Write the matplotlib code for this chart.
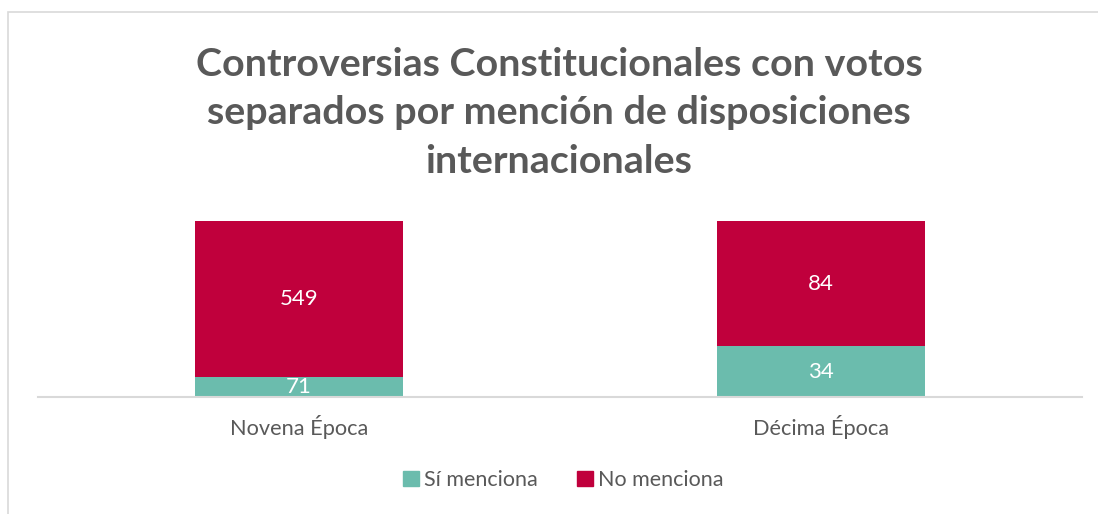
import matplotlib
matplotlib.use('Agg')
import matplotlib.pyplot as plt
from matplotlib.patches import Rectangle, Patch

plt.rcParams['font.family'] = ['Lato', 'DejaVu Sans']

categories = ['Novena Época', 'Décima Época']
si_menciona = [71, 34]
no_menciona = [549, 84]
series_names = ['Sí menciona', 'No menciona']
colors = ['#6BBCAD', '#C0003C']
gray = '#595959'


def main():
    fig = plt.figure(figsize=(10.98, 5.14), dpi=100)
    # outer chart border
    fig.patches.append(Rectangle((8 / 1098, -0.1), 1.2, 1 - 12 / 514 + 0.1,
                                 transform=fig.transFigure, fill=False,
                                 edgecolor='#d9d9d9', linewidth=1.2))

    ax = fig.add_axes([38 / 1098, 1 - 397 / 514, 1044 / 1098, 176 / 514])

    totals = [a + b for a, b in zip(si_menciona, no_menciona)]
    si_pct = [a / t for a, t in zip(si_menciona, totals)]
    no_pct = [b / t for b, t in zip(no_menciona, totals)]
    x = range(len(categories))

    ax.bar(x, si_pct, width=0.4, color=colors[0], label=series_names[0])
    ax.bar(x, no_pct, width=0.4, bottom=si_pct, color=colors[1], label=series_names[1])

    for i in x:
        ax.text(i, si_pct[i] / 2, str(si_menciona[i]), ha='center', va='center',
                color='white', fontsize=16)
        ax.text(i, si_pct[i] + no_pct[i] / 2, str(no_menciona[i]), ha='center',
                va='center', color='white', fontsize=16)

    ax.set_xlim(-0.5, 1.5)
    ax.set_ylim(0, 1)
    ax.set_xticks(list(x))
    ax.set_xticklabels(categories, fontsize=15.7, color=gray)
    ax.tick_params(axis='x', length=0, pad=13)
    ax.set_yticks([])
    for s in ['top', 'left', 'right']:
        ax.spines[s].set_visible(False)
    ax.spines['bottom'].set_color('#d9d9d9')
    ax.spines['bottom'].set_linewidth(1.5)

    fig.text(0.509, 1 - 113 / 514,
             'Controversias Constitucionales con votos\nseparados por mención de disposiciones\ninternacionales',
             ha='center', va='center', fontsize=28.4, fontweight='bold', color=gray,
             linespacing=1.45)

    handles = [Patch(color=c) for c in colors]
    fig.legend(handles, series_names, loc='center', bbox_to_anchor=(0.513, 1 - 480 / 514),
               ncol=2, frameon=False, fontsize=15.5, labelcolor=gray,
               handlelength=0.75, handleheight=0.75, handletextpad=0.25, columnspacing=1.8)

    fig.savefig('out.png', dpi=100)


if __name__ == '__main__':
    main()
